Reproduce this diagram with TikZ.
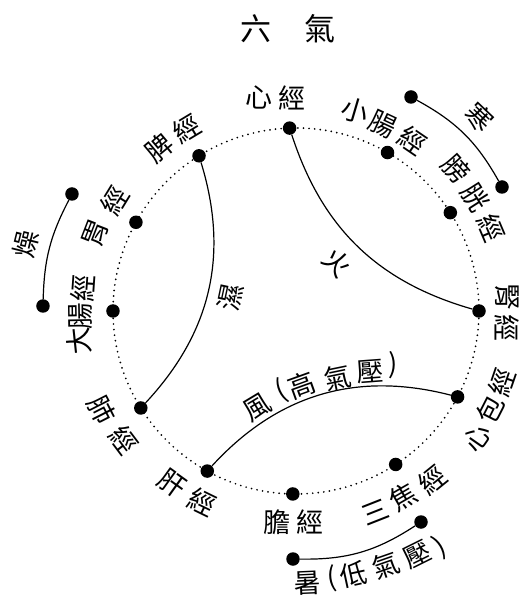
\documentclass[tikz,border=0pt]{standalone}
\usepackage{fontspec}
\newfontfamily\cjk{Noto Sans CJK TC}
\begin{document}
\begin{tikzpicture}[x=1pt,y=1pt,
  dotnode/.style={circle,fill=black,inner sep=0pt,minimum size=13.5pt},
  lbl/.style={font=\cjk\fontsize{27}{27}\selectfont,inner sep=0pt},
  ttl/.style={font=\cjk\fontsize{31}{31}\selectfont,inner sep=0pt},
  link/.style={line width=1.2pt},
  ring/.style={line width=1.9pt,dash pattern=on 0pt off 5.6pt,line cap=round}]
\useasboundingbox (-296,-291) rectangle (230,311);
% title
\node[ttl] (t1) at (-40,282) {六};
\node[ttl] (t2) at (24,282) {氣};
% dotted ring
\draw[ring] (0,0) circle (183);
% meridian dots
\node[dotnode] (xin) at (92:183) {};
\node[dotnode] (xiaochang) at (60:183) {};
\node[dotnode] (pangguang) at (32.5:183) {};
\node[dotnode] (shen) at (0:183) {};
\node[dotnode] (xinbao) at (-28:183) {};
\node[dotnode] (sanjiao) at (-57:183) {};
\node[dotnode] (dan) at (-91:183) {};
\node[dotnode] (gan) at (-119:183) {};
\node[dotnode] (fei) at (-148:183) {};
\node[dotnode] (dachang) at (180:183) {};
\node[dotnode] (wei) at (151:183) {};
\node[dotnode] (pi) at (122:183) {};
% outer dots
\node[dotnode] (han1) at (115,214) {};
\node[dotnode] (han2) at (206,124) {};
\node[dotnode] (zao1) at (-224,117) {};
\node[dotnode] (zao2) at (-253,5) {};
\node[dotnode] (shu1) at (-3,-248) {};
\node[dotnode] (shu2) at (125,-211) {};
% connectors
\draw[link] (pi) to[bend left=30] (fei);
\draw[link] (xin) to[bend right=28] (shen);
\draw[link] (gan) to[bend left=31] (xinbao);
\draw[link] (han1) to[bend left=16] (han2);
\draw[link] (zao1) to[bend right=13] (zao2);
\draw[link] (shu1) to[bend right=17] (shu2);
% meridian labels
\node[lbl,rotate=40] (pa) at (130:213) {脾};
\node[lbl,rotate=31] (pb) at (121:213) {經};
\node[lbl] (xa) at (-37,214) {心};
\node[lbl] (xb) at (-4,213) {經};
\node[lbl,rotate=-16.4] (xca) at (73.6:209) {小};
\node[lbl,rotate=-25] (xcb) at (65:206) {腸};
\node[lbl,rotate=-34.3] (xcc) at (55.7:207) {經};
\node[lbl,rotate=-48.4] (pga) at (41.6:214) {膀};
\node[lbl,rotate=-57.5] (pgb) at (32.5:212) {胱};
\node[lbl,rotate=-67] (pgc) at (23:212) {經};
\node[lbl,rotate=-90] (sa) at (211,14) {腎};
\node[lbl,rotate=-90] (sb) at (211,-17) {經};
\node[lbl,rotate=55.1] (xba) at (-34.9:221) {心};
\node[lbl,rotate=63] (xbb) at (-27:218) {包};
\node[lbl,rotate=71] (xbc) at (-19:218) {經};
\node[lbl,rotate=21.5] (sja) at (-68.5:216) {三};
\node[lbl,rotate=30] (sjb) at (-60:215) {焦};
\node[lbl,rotate=39] (sjc) at (-51:217) {經};
\node[lbl] (da) at (-19,-211) {膽};
\node[lbl] (db) at (14,-211) {經};
\node[lbl,rotate=-35.6] (ga) at (-125.6:212) {肝};
\node[lbl,rotate=-26] (gb) at (-116:213) {經};
\node[lbl,rotate=-62.9] (fa) at (-152.9:218) {肺};
\node[lbl,rotate=-53.1] (fb) at (-143.1:215) {經};
\node[lbl,rotate=96] (dca) at (188:219) {大};
\node[lbl,rotate=91] (dcb) at (181.5:216) {腸};
\node[lbl,rotate=86] (dcc) at (174:214) {經};
\node[lbl,rotate=68.9] (wa) at (158.9:215) {胃};
\node[lbl,rotate=58.6] (wb) at (148.6:213) {經};
% six qi labels
\node[lbl,rotate=-43.5] (han) at (46.5:267) {寒};
\node[lbl,rotate=76] (zao) at (166:278) {燥};
\node[lbl,rotate=-45] (huo) at (41,48) {火};
\node[lbl,rotate=78] (shi) at (-66,14) {濕};
\node[lbl,rotate=2.5] (sh1) at (-87.5:272) {暑};
\node[lbl,rotate=7.4] (sh2) at (-82.4:270) {(};
\node[lbl,rotate=12.2] (sh3) at (-77.6:270) {低};
\node[lbl,rotate=19.2] (sh4) at (-70.6:270) {氣};
\node[lbl,rotate=26.4] (sh5) at (-63.6:272) {壓};
\node[lbl,rotate=31.1] (sh6) at (-58.6:276) {)};
\begin{scope}[shift={(93,-316)}]
\node[lbl,rotate=31] (f1) at (121:256) {風};
\node[lbl,rotate=24.4] (f2) at (114.6:260) {(};
\node[lbl,rotate=19.8] (f3) at (109.8:257) {高};
\node[lbl,rotate=11.6] (f4) at (101.6:255) {氣};
\node[lbl,rotate=4.3] (f5) at (94.1:256) {壓};
\node[lbl,rotate=-0.7] (f6) at (89:262) {)};
\end{scope}
\end{tikzpicture}
\end{document}
